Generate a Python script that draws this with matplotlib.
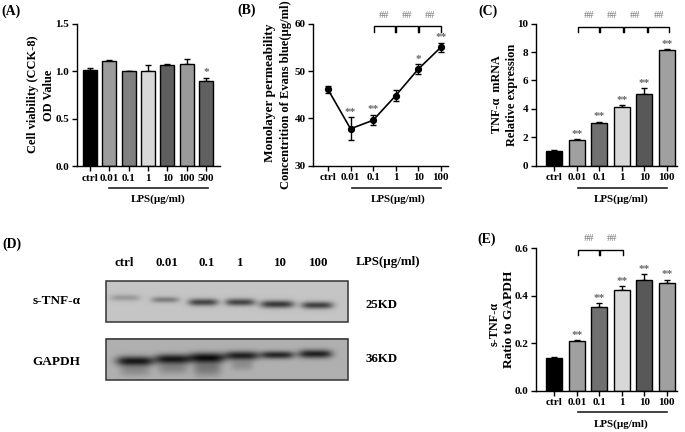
import numpy as np
import matplotlib
matplotlib.use("Agg")
import matplotlib.pyplot as plt

plt.rcParams['font.family'] = ['Liberation Serif', 'DejaVu Serif']
plt.rcParams['font.weight'] = 'bold'
W, H = 685, 432

labels_a = ['ctrl', '0.01', '0.1', '1', '10', '100', '500']
values_a = [1.01, 1.11, 1.00, 1.00, 1.065, 1.075, 0.895]
errors_a = [0.025, 0.01, 0.005, 0.06, 0.015, 0.05, 0.035]
colors_a = ['#000000', '#9c9c9c', '#808080', '#d8d8d8', '#5e5e5e', '#9a9a9a', '#606060']
stars_a = ['', '', '', '', '', '', '*']

labels = ['ctrl', '0.01', '0.1', '1', '10', '100']
values_b = [46.1, 37.8, 39.6, 44.8, 50.4, 55.0]
errors_b = [0.8, 2.4, 1.1, 1.2, 1.0, 0.9]
stars_b = ['', '**', '**', '', '*', '**']

values_c = [1.03, 1.78, 2.98, 4.12, 5.07, 8.12]
errors_c = [0.07, 0.07, 0.10, 0.12, 0.40, 0.08]
stars_c = ['', '**', '**', '**', '**', '**']

values_e = [0.137, 0.21, 0.352, 0.425, 0.468, 0.453]
errors_e = [0.005, 0.002, 0.018, 0.017, 0.024, 0.015]
stars_e = ['', '**', '**', '**', '**', '**']
colors_6 = ['#000000', '#a0a0a0', '#707070', '#d8d8d8', '#585858', '#a0a0a0']

# western-blot band strengths: (x px, y px, half width, half height, darkness)
bands_top = [(125, 297.5, 15, 3.2, 0.17), (165, 299.5, 14, 3.0, 0.28), (203, 302, 15, 3.6, 0.50),
             (240, 302, 15, 3.6, 0.50), (277, 304, 17, 3.8, 0.55), (317, 305, 16, 3.6, 0.52)]
bands_bot = [(135, 361, 19, 4.8, 0.58), (172.7, 359, 18, 4.8, 0.58), (207, 357.7, 18, 5.0, 0.60),
             (241.7, 355.7, 17, 4.4, 0.56), (277, 355, 17, 3.8, 0.54), (315, 354, 17, 4.2, 0.56)]
smears_bot = [(135, 370, 15, 6, 0.14), (172.7, 368, 15, 6, 0.16), (207, 368, 14, 8, 0.22), (241.7, 365, 11, 5, 0.13)]

fig = plt.figure(figsize=(W / 100, H / 100), dpi=100)
overlay = fig.add_axes([0, 0, 1, 1], zorder=5)
overlay.set_xlim(0, W); overlay.set_ylim(H, 0); overlay.axis('off')


def make_axes(left, right, top, bottom, ylim, yticks, ticklabels, x0, step, n, xlabels):
    ax = fig.add_axes([left / W, 1 - bottom / H, (right - left) / W, (bottom - top) / H])
    ax.set_xlim((left - x0) / step, (right - x0) / step)
    ax.set_ylim(*ylim)
    ax.set_yticks(yticks, ticklabels)
    ax.set_xticks(range(n), xlabels)
    for s in ('top', 'right'):
        ax.spines[s].set_visible(False)
    for s in ('left', 'bottom'):
        ax.spines[s].set_linewidth(1.0)
    ax.tick_params(width=1.0, length=3.5, labelsize=8.0, pad=2)
    ax.patch.set_alpha(0)
    return ax


def bars(ax, vals, errs, cols, stars, offs, barw):
    ax.bar(range(len(vals)), vals, width=barw, color=cols, edgecolor='black', linewidth=1.0, zorder=2)
    ax.errorbar(range(len(vals)), vals, yerr=[[0] * len(vals), errs], fmt='none', ecolor='black',
                elinewidth=1.0, capsize=2.5, capthick=1.0, zorder=1)
    for i, s in enumerate(stars):
        if s:
            ax.text(i, vals[i] + errs[i] + offs, s, ha='center', va='center', fontsize=8, color='#666666')


def bracket(xs, top, bot, tags_y):
    for a, b in zip(xs[:-1], xs[1:]):
        overlay.plot([a + .5, a + .5, b - .5, b - .5], [bot, top, top, bot], color='black', lw=1.0, solid_joinstyle='miter')
        overlay.text((a + b) / 2, tags_y, '##', ha='center', va='center', fontsize=7.5, color='#777777', fontweight='normal')


def lps(x1, x2, y, tx, ty):
    overlay.plot([x1, x2], [y, y], color='#222222', lw=1.2)
    overlay.text(tx, ty, 'LPS(µg/ml)', ha='center', va='center', fontsize=7.9)


def t(x, y, s, size=7.6, rot=0, **k):
    overlay.text(x, y, s, ha='center', va='center', fontsize=size, rotation=rot, **k)


# Panel A
axa = make_axes(77, 220, 23.7, 166, (0, 1.5), [0, .5, 1, 1.5], ['0.0', '0.5', '1.0', '1.5'], 90, 19.33, 7, labels_a)
bars(axa, values_a, errors_a, colors_a, stars_a, 0.06, 0.72)
lps(109, 208, 187.7, 158, 199)
t(33, 94, 'Cell viability (CCK-8)', 8.9, 90)
t(49, 95, 'OD Value', 8.9, 90)

# Panel B
axb = make_axes(313.3, 448, 23.7, 165.7, (30, 60), [30, 40, 50, 60], ['30', '40', '50', '60'], 328, 22.55, 6, labels)
axb.errorbar(range(6), values_b, yerr=errors_b, fmt='-o', color='black', ms=4.2, lw=1.2,
             elinewidth=1.0, capsize=2.5, capthick=1.0)
for i, s in enumerate(stars_b):
    if s:
        axb.text(i, values_b[i] + errors_b[i] + 1.1, s, ha='center', va='center', fontsize=8, color='#666666')
lps(351.7, 440.7, 187.7, 398, 199)
t(270, 93, 'Monolayer permeability', 9.6, 90)
t(286, 95, 'Concentrition of Evans blue(µg/ml)', 9.0, 90)
bracket([373.3, 395.7, 418.3, 441.7], 26, 31.7, 15)

# Panel C
axc = make_axes(536, 676.7, 23.7, 165.7, (0, 10), [0, 2, 4, 6, 8, 10], ['0', '2', '4', '6', '8', '10'], 554.3, 22.48, 6, labels)
bars(axc, values_c, errors_c, colors_6, stars_c, 0.35, 0.72)
lps(578, 667, 187.7, 620.7, 199)
t(497, 94, 'TNF-α  mRNA', 8.7, 90)
t(512, 95, 'Relative expression', 8.9, 90)
bracket([577.7, 600, 623.3, 647.3, 670], 27, 32, 15)

# Panel E
axe = make_axes(536, 676.7, 248.3, 390.7, (0, 0.6), [0, .2, .4, .6], ['0.0', '0.2', '0.4', '0.6'], 554.3, 22.48, 6, labels)
bars(axe, values_e, errors_e, colors_6, stars_e, 0.02, 0.72)
lps(578, 667, 412, 620.7, 424)
t(495, 324, 's-TNF-α', 8.7, 90)
t(509, 319, 'Ratio to GAPDH', 9.6, 90)
bracket([577.7, 600, 623.3], 250, 255, 238.5)

# Panel letters
for x, y, s in [(11, 11, '(A)'), (247, 10, '(B)'), (488, 11, '(C)'), (12, 244, '(D)'), (487, 239, '(E)')]:
    t(x, y, s, 10)

# Panel D: blot images built from the band lists


def blot(x1, x2, y1, y2, base, band_lists):
    xs = np.arange(x1, x2, 0.5)
    ys = np.arange(y1, y2, 0.5)
    X, Y = np.meshgrid(xs, ys)
    img = np.full(X.shape, float(base))
    for bl in band_lists:
        for cx, cy, hw, hh, d in bl:
            img -= d * np.exp(-(((X - cx) / hw) ** 4) - ((Y - cy) / hh) ** 2)
    overlay.imshow(np.clip(img, 0, 1), extent=(x1, x2, y2, y1), cmap='gray', vmin=0, vmax=1,
                   aspect='auto', interpolation='bilinear', zorder=1)
    overlay.add_patch(plt.Rectangle((x1, y1), x2 - x1, y2 - y1, fill=False, ec='#333333', lw=1.1, zorder=2))


blot(106, 348, 281, 322, 0.77, [bands_top])
blot(106, 348, 338.5, 380, 0.69, [bands_bot, smears_bot])
overlay.set_xlim(0, W); overlay.set_ylim(H, 0)

for x, s in [(124, 'ctrl'), (167, '0.01'), (206.7, '0.1'), (240, '1'), (280.7, '10'), (319, '100')]:
    t(x, 262.5, s, 9.3)
t(388, 262, 'LPS(µg/ml)', 9.4)
t(57, 301, 's-TNF-α', 9.5)
t(56, 362, 'GAPDH', 9.5)
t(382, 305, '25KD', 9.3)
t(382, 359, '36KD', 9.3)

fig.savefig('out.png', dpi=100)
